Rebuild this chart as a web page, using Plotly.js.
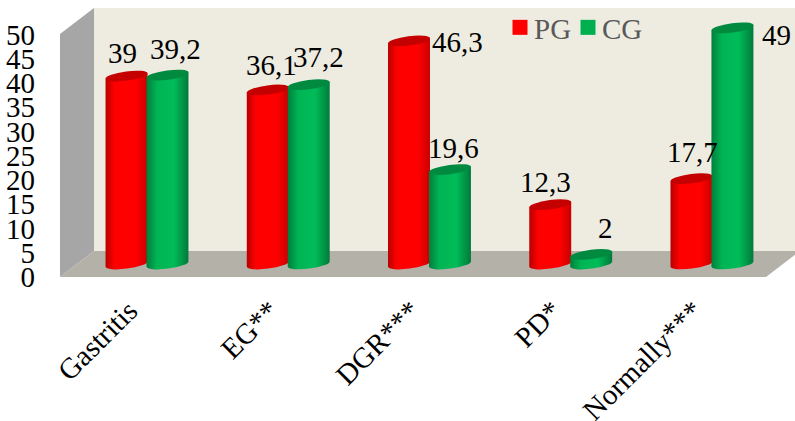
<!DOCTYPE html>
<html>
<head>
<meta charset="utf-8">
<script src="https://cdn.plot.ly/plotly-3.0.1.min.js"></script>
<style>html,body{margin:0;padding:0;background:#fff;}#chart{width:795px;height:421px;}</style>
</head>
<body>
<div id="chart"></div>
<script>
// Findings by group, percent
const categories = ['Gastritis', 'EG**', 'DGR***', 'PD*', 'Normally***'];
const pgValues = [39, 36.1, 46.3, 12.3, 17.7];
const cgValues = [39.2, 37.2, 19.6, 2, 49];
const tickValues = [0, 5, 10, 15, 20, 25, 30, 35, 40, 45, 50];

// Label offsets from the top of each bar, in pixels: [dx, dy]
const pgLabelOffsets = [[-25, 23], [-17, 25], [28, -1], [-25, 23], [-19, 27]];
const cgLabelOffsets = [[28, 26], [30, 28], [24, 22], [35, 26], [65, -7]];

const W = 795, H = 421;
const M = {l: 60, r: 0, t: 8, b: 144};
const px = x => (x - M.l) / (W - M.l - M.r);
const py = y => 1 - (y - M.t) / (H - M.t - M.b);
const poly = pts => 'M' + pts.map(p => px(p[0]) + ',' + py(p[1])).join('L') + 'Z';
const room = (pts, fill) => ({type: 'path', xref: 'paper', yref: 'paper', layer: 'below',
  path: poly(pts), fillcolor: fill, line: {width: 0}});

const SERIF = '"Liberation Serif", "Times New Roman", serif';
const FONT_SIZE = 29;
const comma = v => String(v).replace('.', ',');
const labels = (vals, offs) => vals.map((v, i) => ({
  x: categories[i], y: v, xref: 'x', yref: 'y', text: comma(v),
  xshift: offs[i][0], yshift: offs[i][1], showarrow: false,
  xanchor: 'center', yanchor: 'middle', font: {family: SERIF, size: FONT_SIZE, color: '#000'}
}));

const traces = [
  {type: 'bar', name: 'PG', x: categories, y: pgValues, marker: {color: '#FF0000', line: {width: 0}}, hoverinfo: 'y'},
  {type: 'bar', name: 'CG', x: categories, y: cgValues, marker: {color: '#00B050', line: {width: 0}}, hoverinfo: 'y'},
  // Keeps the scale axis on the left drawn
  {type: 'scatter', mode: 'none', x: [categories[0]], y: [0], yaxis: 'y2', showlegend: false, hoverinfo: 'skip'}
];

const layout = {
  width: W, height: H, margin: M, autosize: false,
  paper_bgcolor: '#fff', plot_bgcolor: '#fff',
  font: {family: SERIF, size: FONT_SIZE, color: '#000'},
  barmode: 'group', bargap: 0.42, bargroupgap: 0,
  showlegend: true,
  legend: {orientation: 'h', x: px(500), y: py(2), xanchor: 'left', yanchor: 'top',
    bgcolor: 'rgba(0,0,0,0)', font: {family: SERIF, size: FONT_SIZE, color: '#595959'},
    itemwidth: 30, tracegroupgap: 0, entrywidth: 23, entrywidthmode: 'pixels'},
  xaxis: {type: 'category', range: [-0.616, 4.588], showgrid: false, zeroline: false, showline: false,
    ticks: '', tickangle: -45, tickfont: {family: SERIF, size: FONT_SIZE, color: '#000'},
    ticklabelstandoff: 10, ticklabelshift: -18, automargin: false},
  // Bars stand a little in front of the back wall, so their scale starts above the floor edge
  yaxis: {range: [-2.697, 53.11], visible: false, fixedrange: true},
  yaxis2: {overlaying: 'y', side: 'left', range: [0, 55.46], tickvals: tickValues, ticktext: tickValues.map(String),
    showgrid: false, zeroline: false, showline: false, ticks: '', ticklabelstandoff: 24,
    tickfont: {family: SERIF, size: FONT_SIZE, color: '#000'}, automargin: false},
  shapes: [
    room([[94, 8], [800, 8], [800, 251], [94, 251]], '#EEECE1'),
    room([[60, 34], [94, 8], [94, 251], [60, 277]], '#A6A6A6'),
    room([[60, 277], [94, 251], [800, 251], [766, 277]], '#B4B1A9')
  ],
  annotations: labels(pgValues, pgLabelOffsets).concat(labels(cgValues, cgLabelOffsets))
};

// Cylinder look: gradients and tilted elliptical ends built on the bars the library placed
const NS = 'http://www.w3.org/2000/svg';
function gradient(defs, id, stops) {
  const g = document.createElementNS(NS, 'linearGradient');
  g.setAttribute('id', id);
  stops.forEach(s => {
    const st = document.createElementNS(NS, 'stop');
    st.setAttribute('offset', s[0]);
    st.setAttribute('stop-color', s[1]);
    g.appendChild(st);
  });
  defs.appendChild(g);
}

function shadeCylinders(gd) {
  const svg = gd.querySelector('svg.main-svg');
  const defs = document.createElementNS(NS, 'defs');
  svg.insertBefore(defs, svg.firstChild);
  gradient(defs, 'cylRed', [[0, '#B80000'], [0.22, '#FF0000'], [0.72, '#FF0000'], [1, '#C80000']]);
  gradient(defs, 'cylGreen', [[0, '#007F3C'], [0.25, '#00B454'], [0.65, '#00BC58'], [1, '#007A3A']]);
  const tiltDeg = 7.5, ry = 4.6;
  const fills = ['url(#cylRed)', 'url(#cylGreen)'];
  const caps = ['#C40000', '#008A40'];
  gd.querySelectorAll('.barlayer .trace.bars').forEach((tr, t) => {
    tr.querySelectorAll('g.point').forEach(pt => {
      const path = pt.querySelector('path');
      const n = path.getAttribute('d').match(/-?\d+(\.\d+)?/g).map(Number);
      const x0 = n[0], yBase = n[1], yTop = n[2], x1 = n[3];
      const rx = (x1 - x0) / 2 + 0.5, cx = (x0 + x1) / 2;
      const dy = rx * Math.sin(tiltDeg * Math.PI / 180);
      const L = cx - rx, R = cx + rx;
      const arc = `A${rx},${ry} ${-tiltDeg} 0 0 `;
      path.setAttribute('d',
        `M${L},${yTop + dy}V${yBase + dy}${arc}${R},${yBase - dy}V${yTop - dy}L${L},${yTop + dy}Z`);
      path.style.fill = fills[t];
      const cap = document.createElementNS(NS, 'path');
      cap.setAttribute('d',
        `M${L},${yTop + dy}A${rx},${ry} ${-tiltDeg} 1 1 ${R},${yTop - dy}A${rx},${ry} ${-tiltDeg} 1 1 ${L},${yTop + dy}Z`);
      cap.style.fill = caps[t];
      pt.appendChild(cap);
    });
  });
  // Larger legend swatches, with the names pulled in next to them
  gd.querySelectorAll('.legend .legendbar path, .legend .legendpoints path').forEach(p => {
    p.setAttribute('d', 'M7.5,7.5H-7.5V-7.5H7.5Z');
  });
  gd.querySelectorAll('.legend .legendtext').forEach(t => {
    t.setAttribute('x', parseFloat(t.getAttribute('x')) - 6);
  });
  // The narrow entry width would otherwise crop the last name
  gd.querySelectorAll('.legend [clip-path]').forEach(el => el.removeAttribute('clip-path'));
  gd.querySelectorAll('.legend .scrollbox').forEach(el => { el.style.clipPath = 'none'; });
}

Plotly.newPlot('chart', traces, layout, {displayModeBar: false, staticPlot: true}).then(shadeCylinders);
</script>
</body>
</html>
